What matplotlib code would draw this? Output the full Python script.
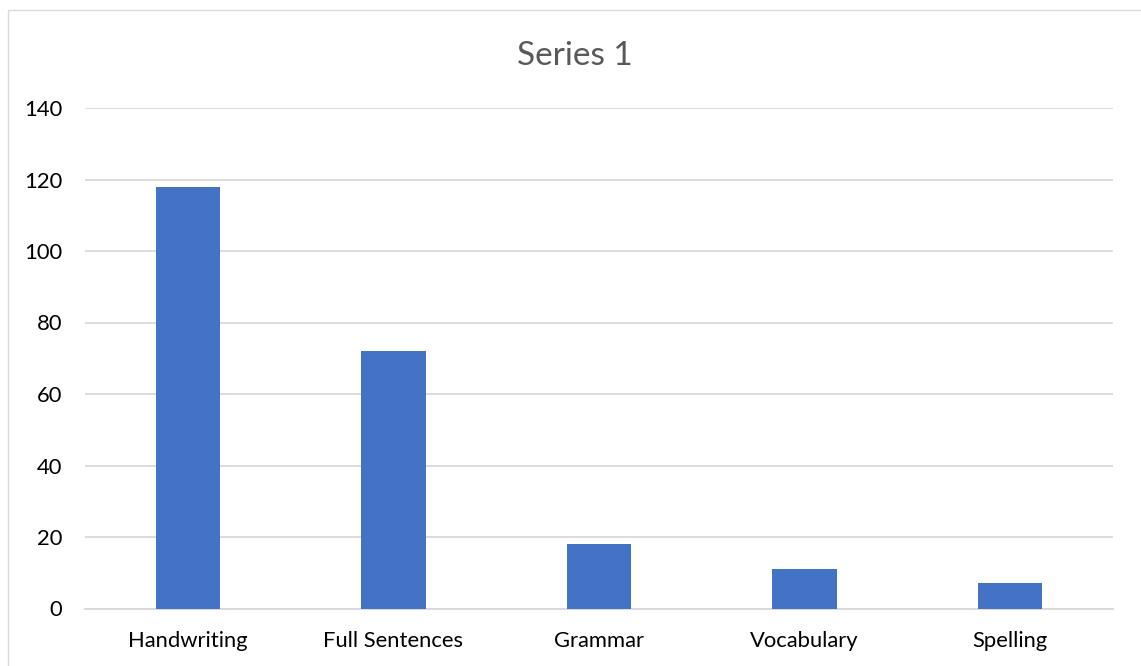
import matplotlib
matplotlib.use("Agg")
import matplotlib.pyplot as plt
from matplotlib.patches import Rectangle

categories = ["Handwriting", "Full Sentences", "Grammar", "Vocabulary", "Spelling"]
values = [118, 72, 18, 11, 7]
yticks = [0, 20, 40, 60, 80, 100, 120, 140]
title = "Series 1"

plt.rcParams['font.family'] = ['Lato', 'DejaVu Sans']

W, H = 1141, 666
fig = plt.figure(figsize=(W / 100, H / 100), dpi=100)
fig.patch.set_facecolor("white")

# chart border (only top and left edges visible)
fig.patches.append(Rectangle((8 / W, -0.1), 1.2, (1 - 9.5 / H) + 0.1,
                             transform=fig.transFigure, fill=False,
                             edgecolor="#d9d9d9", linewidth=1.0))

ax = fig.add_axes([85 / W, 1 - 608.5 / H, (1113 - 85) / W, (608.5 - 108) / H])
x = range(len(categories))
ax.bar(x, values, width=0.314, color="#4472C4", zorder=3)
ax.set_xlim(-0.5, len(categories) - 0.5)
ax.set_ylim(0, 140)
ax.set_yticks(yticks)
ax.set_yticklabels([str(v) for v in yticks])
ax.set_xticks(list(x))
ax.set_xticklabels(categories)
ax.grid(axis="y", color="#d9d9d9", linewidth=1.3, zorder=0)
for s in ["top", "right", "left"]:
    ax.spines[s].set_visible(False)
ax.spines["bottom"].set_color("#d9d9d9")
ax.spines["bottom"].set_linewidth(1.3)
ax.tick_params(axis="both", length=0, labelsize=15.8, colors="#000000")
ax.tick_params(axis="y", pad=16.5)
ax.tick_params(axis="x", pad=16)

fig.text(575 / W, 1 - 56 / H, title, ha="center", va="center",
         fontsize=24, color="#595959")

fig.savefig("out.png", dpi=100)
